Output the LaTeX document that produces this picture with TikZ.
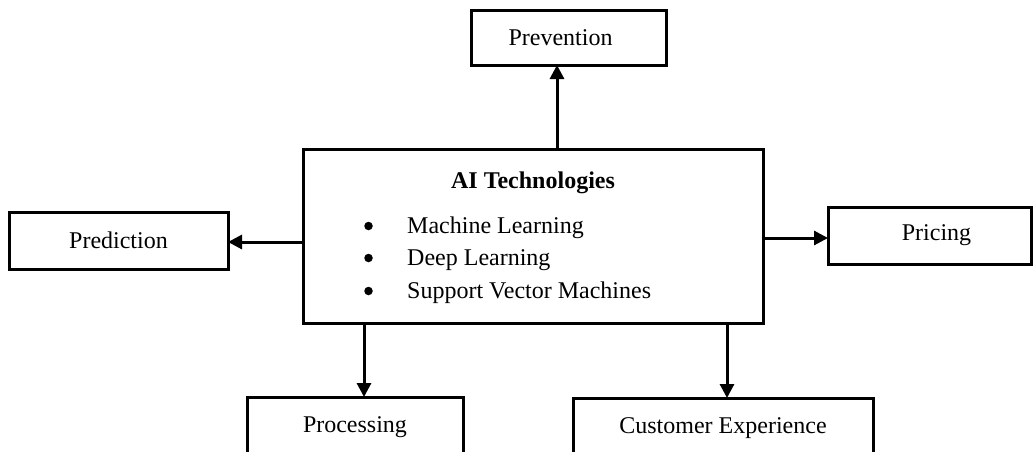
\documentclass[tikz,border=0pt]{standalone}
\usepackage{fontspec}
\setmainfont{Liberation Serif}
\usetikzlibrary{arrows.meta}
\tikzset{
  box/.style={draw=black, line width=3pt, fill=white, inner sep=0pt, font=\fontsize{24}{28}\selectfont},
  arr/.style={line width=3pt, shorten >=-1.5pt, -{Triangle[length=14pt,width=14pt]}},
  txt/.style={inner sep=0pt, anchor=base west, font=\fontsize{24}{28}\selectfont},
  dot/.style={circle, fill=black, inner sep=0pt, minimum size=8.5pt}
}
\begin{document}
\begin{tikzpicture}[x=1pt,y=-1pt]
\useasboundingbox (0,0) rectangle (1034,451);
\clip (0,0) rectangle (1034,451);
\fill[white] (0,0) rectangle (1034,451);
% boxes
\node[box, minimum width=195pt, minimum height=55pt] (pv) at (568.5,37.5) {\raisebox{-4pt}{Prevention}\hspace*{16pt}};
\node[box, minimum width=460pt, minimum height=174pt] (ai) at (533,236) {};
\node[box, minimum width=219pt, minimum height=57pt] (pd) at (118.5,240.5) {\raisebox{-2pt}{Prediction}};
\node[box, minimum width=203pt, minimum height=57pt] (pr) at (929.5,235.5) {\hspace*{14pt}\raisebox{-4pt}{Pricing}};
\node[box, minimum width=216pt, minimum height=60pt] (ps) at (355,427) {Processing};
\node[box, minimum width=300pt, minimum height=60pt] (cx) at (723,428) {Customer Experience};
% contents of AI box
\node[inner sep=0pt, font=\fontsize{24}{28}\selectfont\bfseries] (title) at (533,183) {AI Technologies};
\node[dot] (b1) at (368.5,226) {};
\node[dot] (b2) at (368.5,258) {};
\node[dot] (b3) at (368.5,291) {};
\node[txt] (t1) at (407,233) {Machine Learning};
\node[txt] (t2) at (407,265) {Deep Learning};
\node[txt] (t3) at (407,298) {Support Vector Machines};
% connector guide coordinates
\coordinate (xpv) at (557,0);
\coordinate (ypd) at (0,242);
\coordinate (ypr) at (0,238);
\coordinate (xps) at (364,0);
\coordinate (xcx) at (727,0);
% connectors
\draw[arr] (ai.north -| xpv) -- (pv.south -| xpv);
\draw[arr] (ai.west |- ypd) -- (pd.east |- ypd);
\draw[arr] (ai.east |- ypr) -- (pr.west |- ypr);
\draw[arr] (ai.south -| xps) -- (ps.north -| xps);
\draw[arr] (ai.south -| xcx) -- (cx.north -| xcx);
\end{tikzpicture}
\end{document}
